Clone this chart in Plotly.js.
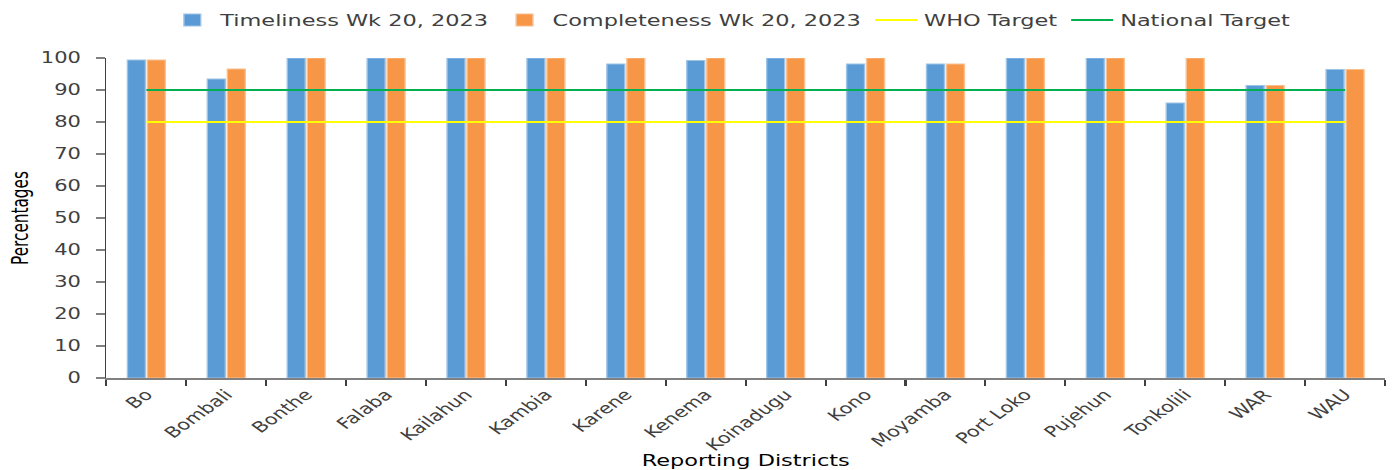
<!DOCTYPE html>
<html>
<head>
<meta charset="utf-8">
<script src="https://cdn.plot.ly/plotly-3.0.1.min.js"></script>
<style>
html,body{margin:0;padding:0;background:#fff;overflow:hidden}
#wrap{width:1392px;height:470px;overflow:hidden}
#chart{width:994px;height:470px;transform:scaleX(1.4004);transform-origin:0 0}
</style>
</head>
<body>
<div id="wrap"><div id="chart"></div></div>
<script>
var districts = ["Bo","Bombali","Bonthe","Falaba","Kailahun","Kambia","Karene","Kenema","Koinadugu","Kono","Moyamba","Port Loko","Pujehun","Tonkolili","WAR","WAU"];
var timeliness = [99.4, 93.4, 100, 100, 100, 100, 98.1, 99.2, 100, 98.1, 98.1, 100, 100, 85.9, 91.4, 96.4];
var completeness = [99.4, 96.6, 100, 100, 100, 100, 100, 100, 100, 100, 98.1, 100, 100, 100, 91.4, 96.4];
var whoTarget = districts.map(function(){return 80;});
var nationalTarget = districts.map(function(){return 90;});

var traces = [
  {type:'bar', name:'Timeliness Wk 20, 2023', x:districts, y:timeliness, marker:{color:'#5B9BD5', line:{color:'#9DC3E6', width:1}}},
  {type:'bar', name:'Completeness Wk 20, 2023', x:districts, y:completeness, marker:{color:'#F79646', line:{color:'#FAC090', width:1}}},
  {type:'scatter', mode:'lines', name:'WHO Target', x:districts, y:whoTarget, line:{color:'#FFFF00', width:2}},
  {type:'scatter', mode:'lines', name:'National Target', x:districts, y:nationalTarget, line:{color:'#00B050', width:2}}
];

var layout = {
  width:994, height:470,
  margin:{l:76, r:5, t:58, b:92},
  paper_bgcolor:'#fff', plot_bgcolor:'#fff',
  font:{family:'DejaVu Sans, Verdana, sans-serif', color:'#404040', size:15},
  barmode:'group', bargap:0.5, bargroupgap:0.1,
  showlegend:true,
  legend:{orientation:'h', xref:'container', yref:'container', x:0.525, xanchor:'center', y:0.957, yanchor:'middle', font:{size:16, color:'#404040'}, traceorder:'normal'},
  xaxis:{
    type:'category', showgrid:false, showline:true, linecolor:'#808080', linewidth:2,
    ticks:'outside', tickson:'boundaries', ticklen:6, tickcolor:'#404040', tickwidth:1.5,
    tickangle:-45, tickfont:{size:15, color:'#404040'},
    title:{text:'Reporting Districts', font:{size:16, color:'#000'}, standoff:4}
  },
  yaxis:{
    range:[0,100], dtick:10, showgrid:false, showline:true, linecolor:'#404040', linewidth:1.2,
    ticks:'outside', ticklen:6, tickcolor:'#808080', tickwidth:1.5, ticklabelstandoff:8,
    tickfont:{size:15, color:'#404040'}, zeroline:false,
    title:{text:'Percentages', font:{family:'Liberation Sans Narrow, Arial Narrow, DejaVu Sans Condensed, sans-serif', size:17, color:'#000'}, standoff:4}
  }
};
Plotly.newPlot('chart', traces, layout, {displayModeBar:false, staticPlot:true});
</script>
</body>
</html>
